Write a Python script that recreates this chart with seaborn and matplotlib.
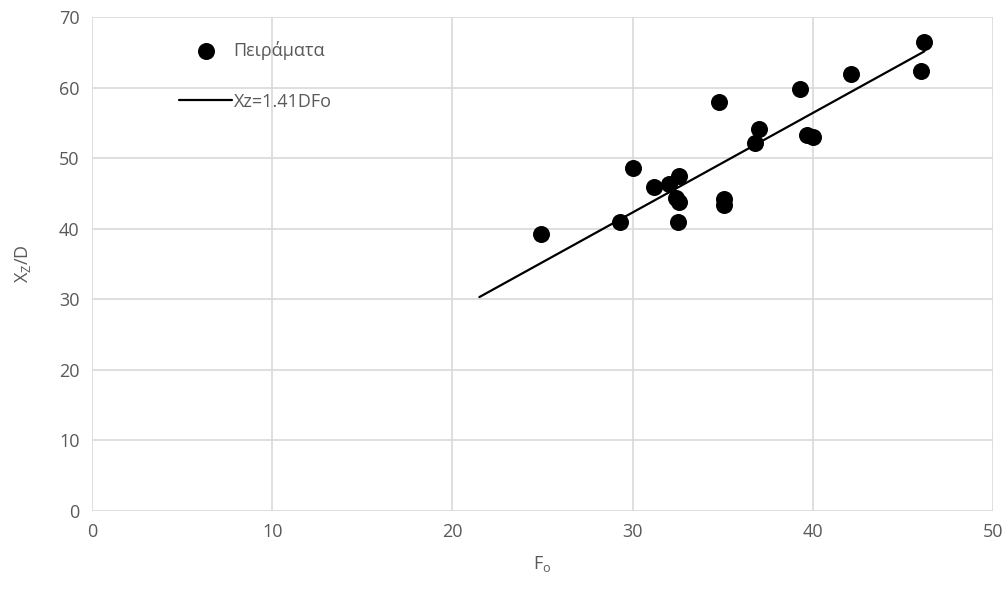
import numpy as np
import pandas as pd
import matplotlib
matplotlib.use("Agg")
import matplotlib.pyplot as plt
import seaborn as sns

# Experimental points
fo = [24.9, 29.3, 30.0, 31.2, 32.0, 32.6, 32.4, 32.6, 32.5, 35.1, 35.1,
      34.8, 37.0, 36.8, 39.3, 39.7, 40.0, 42.1, 46.2, 46.0]
xz_d = [39.3, 40.9, 48.6, 45.9, 46.4, 47.5, 44.4, 43.8, 40.9, 44.2, 43.4,
        58.0, 54.2, 52.1, 59.8, 53.3, 53.0, 61.9, 66.4, 62.3]

# Fitted relation Xz = 1.41 D Fo
fit_coef = 1.41
fit_x = [21.5, 46.2]

xticks = [0, 10, 20, 30, 40, 50]
yticks = [0, 10, 20, 30, 40, 50, 60, 70]

sns.set_theme(style="white")
plt.rcParams['font.family'] = ['Open Sans', 'DejaVu Sans']

fig = plt.figure(figsize=(10.08, 5.99), dpi=100)
ax = fig.add_axes([0.0913, 0.147, 0.8937, 0.8245])

pts = pd.DataFrame({"Fo": fo, "XzD": xz_d})
fit = pd.DataFrame({"Fo": fit_x, "XzD": [fit_coef * v for v in fit_x]})

sns.lineplot(data=fit, x="Fo", y="XzD", ax=ax, color="black", linewidth=1.6,
             label="Xz=1.41DFo", zorder=3)
sns.scatterplot(data=pts, x="Fo", y="XzD", ax=ax, color="black", s=150,
                edgecolor="black", linewidth=0, label="Πειράματα", zorder=4)

ax.set_xlim(0, 50)
ax.set_ylim(0, 70)
ax.set_xticks(xticks)
ax.set_yticks(yticks)
ax.grid(True, color="#d9d9d9", linewidth=1.2)
ax.set_axisbelow(True)
for s in ax.spines.values():
    s.set_visible(False)

gray = "#595959"
ax.tick_params(axis="both", colors=gray, labelsize=13, length=0, pad=9)
ax.set_xlabel(r"F$_\mathregular{o}$", color=gray, fontsize=13, labelpad=9)
ax.set_ylabel(r"X$_\mathregular{Z}$/D", color=gray, fontsize=13, labelpad=19)

handles, labels = ax.get_legend_handles_labels()
order = [labels.index("Πειράματα"), labels.index("Xz=1.41DFo")]
leg = ax.legend([handles[i] for i in order], [labels[i] for i in order],
                loc="upper left", bbox_to_anchor=(0.079, 0.984), frameon=False,
                fontsize=13, labelspacing=1.8, handlelength=2.9,
                handletextpad=0.1, markerscale=1.0)
for t in leg.get_texts():
    t.set_color(gray)

fig.savefig("out.png", dpi=100)
